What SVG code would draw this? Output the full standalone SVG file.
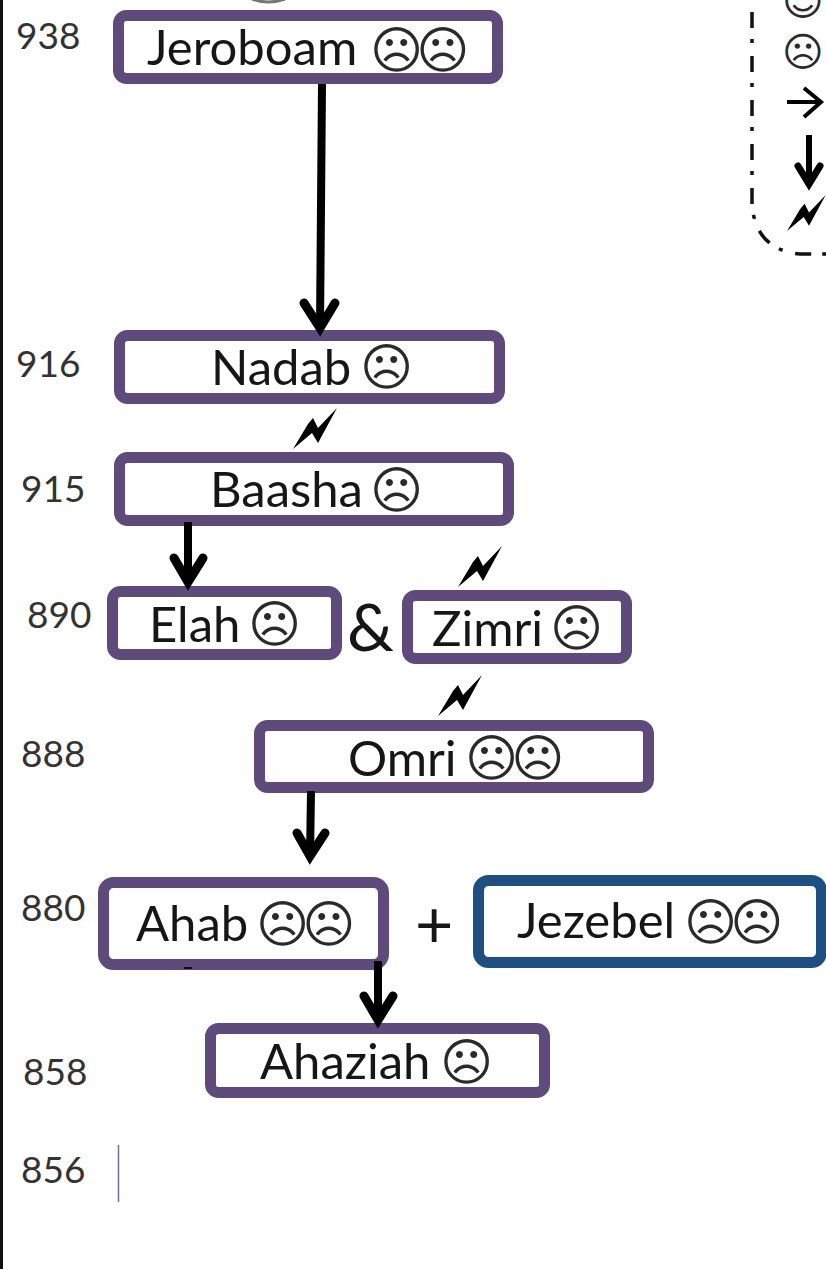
<svg xmlns="http://www.w3.org/2000/svg" xmlns:xlink="http://www.w3.org/1999/xlink" width="826" height="1269" viewBox="0 0 826 1269">
<style>
.box{fill:#fff;stroke:#5e4b7b;stroke-width:11}
.blue{stroke:#1f4e80}
.name{font-family:"Lato","Noto Sans",sans-serif;font-size:49px;fill:#161616}
.face{font-family:"DejaVu Sans",sans-serif;font-size:51px;letter-spacing:-7px;fill:#2a2a2a}
.yr{font-family:"Lato","Liberation Sans",sans-serif;font-size:37px;fill:#333}
.amp{font-family:"Lato","Noto Sans",sans-serif;font-size:66px;fill:#161616}
.line{fill:none;stroke:#000;stroke-width:8}
.head{fill:none;stroke:#000;stroke-width:9;stroke-linecap:round}
</style>
<defs>
<path id="bolt" d="M0,0L15,-25L20,-31L25,-21L44,-41L25,-6L19,-16Z" fill="#000"/>
</defs>
<rect width="826" height="1269" fill="#fff"/>
<path d="M1.500,0V1269" stroke="#111" stroke-width="3"/>
<path d="M252,-1Q268,5 285,-1" fill="none" stroke="#777" stroke-width="3"/>
<g id="legend">
<path d="M752,-32V205Q756,250 800,254H830" fill="none" stroke="#111" stroke-width="3.500" stroke-dasharray="16 11 4 13"/>
<text class="face" x="782" y="15" style="font-size:40px">☺</text>
<text class="face" x="782" y="66" style="font-size:40px">☹</text>
<path d="M787,102H821M804,88L821,102L804,117" fill="none" stroke="#000" stroke-width="4"/>
<path d="M809,135V182" fill="none" stroke="#000" stroke-width="6"/>
<path d="M798,166L809,184L820,166" fill="none" stroke="#000" stroke-width="7" stroke-linecap="round"/>
<use xlink:href="#bolt" href="#bolt" transform="translate(787,231) scale(0.88)"/>
</g>
<g id="years">
<text class="yr" x="16" y="49">938</text>
<text class="yr" x="16" y="377">916</text>
<text class="yr" x="21" y="502">915</text>
<text class="yr" x="27" y="628">890</text>
<text class="yr" x="21" y="767">888</text>
<text class="yr" x="21" y="921">880</text>
<text class="yr" x="23" y="1085">858</text>
<text class="yr" x="21" y="1183">856</text>
</g>
<g id="jeroboam"><rect class="box" x="118.500" y="15.500" width="379" height="63" rx="8"/><text class="name" x="147" y="65">Jeroboam</text><text class="face" x="370" y="68">☹☹</text></g>
<g id="nadab"><rect class="box" x="119.500" y="335.500" width="380" height="63" rx="8"/><text class="name" x="211" y="385">Nadab</text><text class="face" x="360" y="385">☹</text></g>
<g id="baasha"><rect class="box" x="119.500" y="457.500" width="389" height="63" rx="8"/><text class="name" x="210" y="507">Baasha</text><text class="face" x="370" y="508">☹</text></g>
<g id="elah"><rect class="box" x="112.500" y="591.500" width="224" height="63" rx="8"/><text class="name" x="149" y="642">Elah</text><text class="face" x="248" y="642">☹</text></g>
<g id="zimri"><rect class="box" x="407.500" y="595.500" width="219" height="63" rx="8"/><text class="name" x="432" y="646">Zimri</text><text class="face" x="550" y="646">☹</text></g>
<g id="omri"><rect class="box" x="259.500" y="725.500" width="389" height="62" rx="8"/><text class="name" x="348" y="776">Omri</text><text class="face" x="465" y="776">☹☹</text></g>
<g id="ahab"><rect class="box" x="103.500" y="882.500" width="280" height="82" rx="10"/><text class="name" x="136" y="941">Ahab</text><text class="face" x="256" y="942">☹☹</text></g>
<g id="jezebel"><rect class="box blue" x="478.500" y="880.500" width="343" height="82" rx="10"/><text class="name" x="517" y="938">Jezebel</text><text class="face" x="684" y="940">☹☹</text></g>
<g id="ahaziah"><rect class="box" x="210.500" y="1028.500" width="334" height="64" rx="8"/><text class="name" x="260" y="1079">Ahaziah</text><text class="face" x="440" y="1080">☹</text></g>
<text class="amp" x="347" y="651">&amp;</text>
<text class="amp" x="415" y="948">+</text>
<g id="connectors">
<path class="line" d="M322,84L320,328"/>
<path class="head" d="M304,303L320,328L335,303"/>
<path class="line" d="M188,522V583"/>
<path class="head" d="M174,558L188,582L203,558"/>
<path class="line" d="M311,791L310,857"/>
<path class="head" d="M297,833L310,856L325,833"/>
<path class="line" d="M378,961V1022"/>
<path class="head" d="M364,996L378,1020L393,996"/>
<use xlink:href="#bolt" href="#bolt" x="293" y="449"/>
<use xlink:href="#bolt" href="#bolt" x="458" y="587"/>
<use xlink:href="#bolt" href="#bolt" x="438" y="716"/>
<path d="M118.500,1145V1202" stroke="#7a6a96" stroke-width="1.500"/>
<path d="M184,968H192" stroke="#111" stroke-width="2"/>
</g>
</svg>
